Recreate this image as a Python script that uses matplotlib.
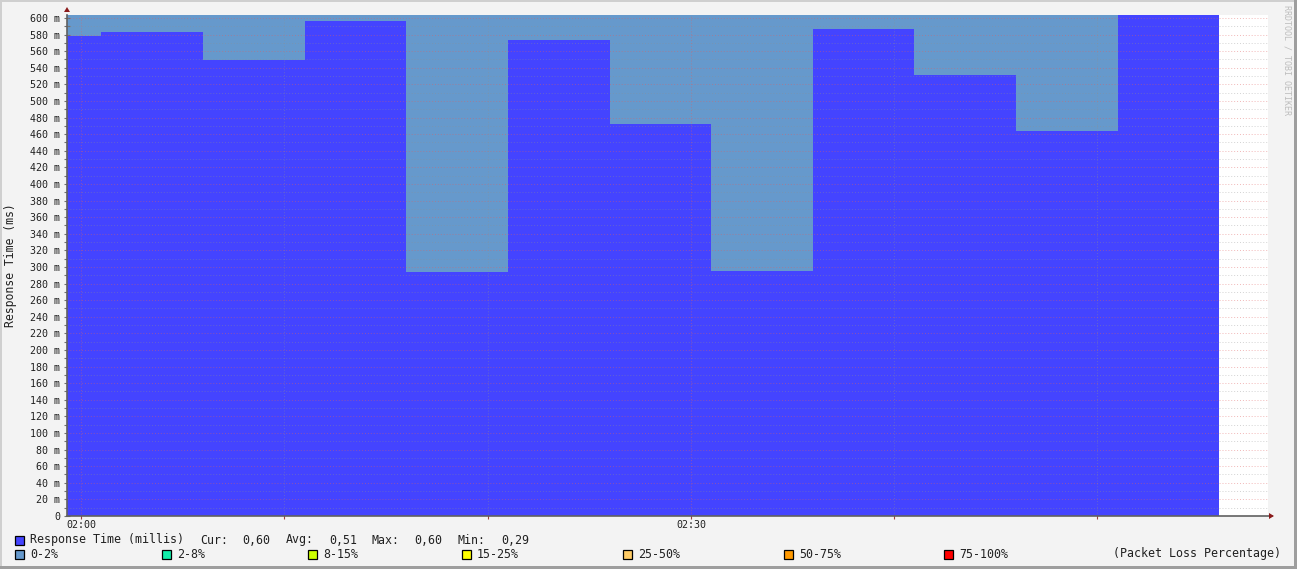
import matplotlib
matplotlib.use("Agg")
import matplotlib.pyplot as plt
from matplotlib.patches import Rectangle, Polygon
import numpy as np

# ---- data ----
step_start_min = [-0.69, 1, 6, 11, 16, 21, 26, 31, 36, 41, 46, 51]   # minutes after 02:00
step_end_min = 56
response_time_s = [0.578, 0.583, 0.549, 0.596, 0.294, 0.573, 0.472, 0.295,
                   0.587, 0.531, 0.464, 0.604]
loss_band = ["0-2%"] * 12
loss_labels = ["0-2%", "2-8%", "8-15%", "15-25%", "25-50%", "50-75%", "75-100%"]
loss_colors = ["#6699CC", "#11EFAA", "#CCFF00", "#FFFF00", "#FFCC66", "#FF9900", "#FF0000"]
time_ticks_min = [0, 30]
time_tick_labels = ["02:00", "02:30"]
legend_stats = ["Cur:", "0,60", "Avg:", "0,51", "Max:", "0,60", "Min:", "0,29"]

W, H = 1297, 569
fig = plt.figure(figsize=(W / 100, H / 100), dpi=100)
fig.patch.set_facecolor("#F3F3F3")
mono = "DejaVu Sans Mono"

def fx(px):
    return px / W

def fy(py):
    return 1 - py / H

# frame
fig.add_artist(Rectangle((0, 0), fx(2), 1, transform=fig.transFigure, color="#CFCFCF", lw=0))
fig.add_artist(Rectangle((0, fy(2)), 1, 2 / H, transform=fig.transFigure, color="#CFCFCF", lw=0))
fig.add_artist(Rectangle((fx(W - 3), 0), fx(3), 1, transform=fig.transFigure, color="#9E9E9E", lw=0))
fig.add_artist(Rectangle((0, 0), 1, 3 / H, transform=fig.transFigure, color="#9E9E9E", lw=0))

L, R, T, B = 67, 1268, 15, 516
ax = fig.add_axes([fx(L), fy(B), fx(R - L), (B - T) / H])
ax.set_facecolor("white")
xmin, xmax = -0.69, 58.39
ymax = 0.6036
ax.set_xlim(xmin, xmax)
ax.set_ylim(0, ymax)

edges = step_start_min + [step_end_min]
col_map = dict(zip(loss_labels, loss_colors))
for i in range(len(step_start_min)):
    x0, x1 = edges[i], edges[i + 1]
    ax.fill_between([x0, x1], 0, ymax, color=col_map[loss_band[i]], lw=0, zorder=1)
    ax.fill_between([x0, x1], 0, response_time_s[i], color="#4444FF", lw=0, zorder=2)

# grid
for v in np.arange(0.01, ymax, 0.02):
    ax.axhline(v, color="#909090", alpha=0.4, lw=0.7, ls=(0, (1, 2)), zorder=3)
for v in np.arange(0.02, ymax, 0.02):
    ax.axhline(v, color="#E06060", alpha=0.45, lw=0.7, ls=(0, (1, 2)), zorder=3)
for m in [10, 20, 40, 50]:
    ax.axvline(m, color="#909090", alpha=0.4, lw=0.7, ls=(0, (1, 2)), zorder=3)
for m in time_ticks_min:
    ax.axvline(m, color="#E06060", alpha=0.45, lw=0.7, ls=(0, (1, 2)), zorder=3)

for s in ax.spines.values():
    s.set_visible(False)
ax.plot([0, 0], [0, 1], transform=ax.transAxes, color="#606060", lw=1.2, clip_on=False, zorder=5)
ax.plot([0, 1.003], [0, 0], transform=ax.transAxes, color="#606060", lw=1.2, clip_on=False, zorder=5)

# arrows
fig.add_artist(Polygon([[fx(64), fy(12)], [fx(70), fy(12)], [fx(67), fy(7)]],
                       closed=True, transform=fig.transFigure, color="#8B1A1A", lw=0))
fig.add_artist(Polygon([[fx(1269), fy(513)], [fx(1269), fy(519)], [fx(1274), fy(516)]],
                       closed=True, transform=fig.transFigure, color="#8B1A1A", lw=0))

yt = np.round(np.arange(0, 0.601, 0.02), 2)
ax.set_yticks(yt)
ax.set_yticklabels(["0" if v == 0 else f"{int(round(v * 1000))} m" for v in yt],
                   fontfamily=mono, fontsize=7.2, color="#202020")
ax.set_yticks(np.arange(0.01, ymax, 0.02), minor=True)
ax.tick_params(axis="y", which="both", direction="inout", length=4, width=0.8,
               color="#707070", pad=3)
ax.set_xticks(time_ticks_min)
ax.set_xticklabels(time_tick_labels, fontfamily=mono, fontsize=7.2, color="#202020")
ax.set_xticks([10, 20, 40, 50], minor=True)
ax.tick_params(axis="x", which="both", direction="inout", length=4, width=0.8,
               color="#A04040", pad=1)

fig.text(fx(11), fy(265), "Response Time (ms)", rotation=90, ha="center", va="center",
         fontfamily=mono, fontsize=8.3, color="#202020")
fig.text(fx(1287), fy(5), "RRDTOOL / TOBI OETIKER", rotation=270, ha="center", va="top",
         fontfamily=mono, fontsize=6, color="#BDBDBD")

def square(x, y, c):
    fig.add_artist(Rectangle((fx(x), fy(y + 9)), 9 / W, 9 / H, transform=fig.transFigure,
                             facecolor=c, edgecolor="black", lw=0.9))

# legend row 1
square(15, 536, "#4444FF")
fig.text(fx(30), fy(540), "Response Time (millis)", fontfamily=mono, fontsize=8.4,
         color="#202020", va="center")
stat_x = [200, 242, 286, 329, 372, 414, 458, 501]
for xp, s in zip(stat_x, legend_stats):
    fig.text(fx(xp), fy(540), s, fontfamily=mono, fontsize=8.4, color="#202020", va="center")

# legend row 2
sq_x = [15, 162, 308, 462, 623, 784, 944]
for xp, lab, c in zip(sq_x, loss_labels, loss_colors):
    square(xp, 550, c)
    fig.text(fx(xp + 15), fy(554), lab, fontfamily=mono, fontsize=8.4, color="#202020", va="center")
fig.text(fx(1281), fy(554), "(Packet Loss Percentage)", fontfamily=mono, fontsize=8.4,
         color="#202020", va="center", ha="right")

fig.savefig("out.png", dpi=100, facecolor=fig.get_facecolor())
